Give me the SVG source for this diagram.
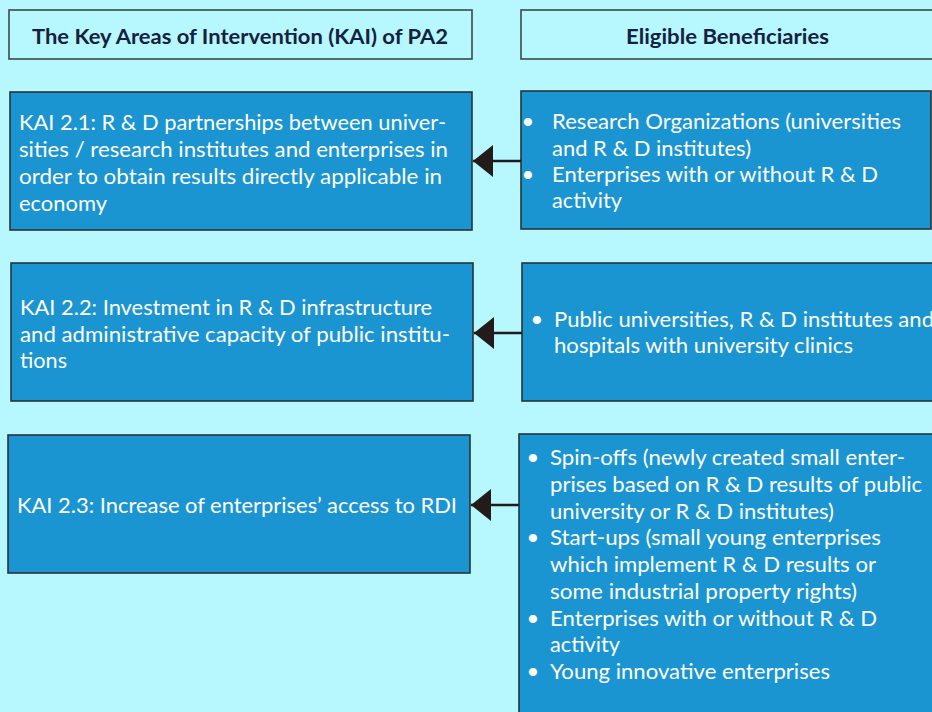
<svg xmlns="http://www.w3.org/2000/svg" width="932" height="712" viewBox="0 0 932 712">
<defs>
<style>
.bg{fill:#b6f8fd}
.hdr{fill:#b6f8fd;stroke:#3a4a4c;stroke-width:1.6}
.box{fill:#1a95d2;stroke:#2a3338;stroke-width:1.6}
.ht{font-family:Lato,"Liberation Sans",sans-serif;font-weight:bold;font-size:21px;fill:#15213f}
.t{font-family:Lato,"Liberation Sans",sans-serif;font-size:22px;fill:#ffffff}
.b{font-family:Lato,"Liberation Sans",sans-serif;font-size:22px;fill:#ffffff;text-anchor:middle}
.con{stroke:#231a1a;stroke-width:2.6;fill:none}
</style>
<marker id="ah" markerUnits="userSpaceOnUse" markerWidth="22" markerHeight="34" refX="20" refY="16" orient="auto" viewBox="0 0 22 34">
<polygon points="20,16 0,0 0,32" fill="#231a1a"/>
</marker>
</defs>
<rect class="bg" x="0" y="0" width="932" height="712"/>

<g id="header-kai">
<rect class="hdr" x="9" y="10" width="463" height="49"/>
<text class="ht" x="32" y="44" textLength="416" lengthAdjust="spacingAndGlyphs">The Key Areas of Intervention (KAI) of PA2</text>
</g>
<g id="header-beneficiaries">
<rect class="hdr" x="521" y="10" width="420" height="49"/>
<text class="ht" x="626" y="44" textLength="203" lengthAdjust="spacingAndGlyphs">Eligible Beneficiaries</text>
</g>

<g id="kai21">
<rect class="box" x="10" y="92" width="462" height="138"/>
<text class="t" x="19" y="130" textLength="427" lengthAdjust="spacingAndGlyphs">KAI 2.1: R &amp; D partnerships between univer-</text>
<text class="t" x="19" y="157" textLength="429" lengthAdjust="spacingAndGlyphs">sities / research institutes and enterprises in</text>
<text class="t" x="19" y="184" textLength="423" lengthAdjust="spacingAndGlyphs">order to obtain results directly applicable in</text>
<text class="t" x="19" y="211" textLength="88" lengthAdjust="spacingAndGlyphs">economy</text>
</g>

<g id="ben21">
<rect class="box" x="521" y="91" width="410" height="138"/>
<text class="b" x="528" y="129">•</text>
<text class="t" x="552" y="129" textLength="349" lengthAdjust="spacingAndGlyphs">Research Organizations (universities</text>
<text class="t" x="552" y="156" textLength="199" lengthAdjust="spacingAndGlyphs">and R &amp; D institutes)</text>
<text class="b" x="528" y="182">•</text>
<text class="t" x="552" y="182" textLength="326" lengthAdjust="spacingAndGlyphs">Enterprises with or without R &amp; D</text>
<text class="t" x="552" y="208" textLength="70" lengthAdjust="spacingAndGlyphs">activity</text>
</g>

<g id="kai22">
<rect class="box" x="11" y="263" width="462" height="138"/>
<text class="t" x="20" y="315" textLength="412" lengthAdjust="spacingAndGlyphs">KAI 2.2: Investment in R &amp; D infrastructure</text>
<text class="t" x="20" y="342" textLength="430" lengthAdjust="spacingAndGlyphs">and administrative capacity of public institu-</text>
<text class="t" x="20" y="368" textLength="47" lengthAdjust="spacingAndGlyphs">tions</text>
</g>

<g id="ben22">
<rect class="box" x="522" y="263" width="420" height="138"/>
<text class="b" x="537" y="327">•</text>
<text class="t" x="554" y="327" textLength="380" lengthAdjust="spacingAndGlyphs">Public universities, R &amp; D institutes and</text>
<text class="t" x="554" y="353" textLength="299" lengthAdjust="spacingAndGlyphs">hospitals with university clinics</text>
</g>

<g id="kai23">
<rect class="box" x="8" y="435" width="462" height="138"/>
<text class="t" x="17" y="513" textLength="440" lengthAdjust="spacingAndGlyphs">KAI 2.3: Increase of enterprises’ access to RDI</text>
</g>

<g id="ben23">
<rect class="box" x="519" y="434" width="425" height="290"/>
<text class="b" x="533" y="465">•</text>
<text class="t" x="550" y="465" textLength="355" lengthAdjust="spacingAndGlyphs">Spin-offs (newly created small enter-</text>
<text class="t" x="550" y="492" textLength="372" lengthAdjust="spacingAndGlyphs">prises based on R &amp; D results of public</text>
<text class="t" x="550" y="519" textLength="284" lengthAdjust="spacingAndGlyphs">university or R &amp; D institutes)</text>
<text class="b" x="533" y="545">•</text>
<text class="t" x="550" y="545" textLength="331" lengthAdjust="spacingAndGlyphs">Start-ups (small young enterprises</text>
<text class="t" x="550" y="572" textLength="326" lengthAdjust="spacingAndGlyphs">which implement R &amp; D results or</text>
<text class="t" x="550" y="599" textLength="307" lengthAdjust="spacingAndGlyphs">some industrial property rights)</text>
<text class="b" x="533" y="626">•</text>
<text class="t" x="550" y="626" textLength="327" lengthAdjust="spacingAndGlyphs">Enterprises with or without R &amp; D</text>
<text class="t" x="550" y="652" textLength="70" lengthAdjust="spacingAndGlyphs">activity</text>
<text class="b" x="533" y="679">•</text>
<text class="t" x="550" y="679" textLength="280" lengthAdjust="spacingAndGlyphs">Young innovative enterprises</text>
</g>

<g id="connectors">
<line class="con" x1="521" y1="161" x2="473" y2="161" marker-end="url(#ah)"/>
<line class="con" x1="522" y1="333" x2="474" y2="333" marker-end="url(#ah)"/>
<line class="con" x1="519" y1="505" x2="471" y2="505" marker-end="url(#ah)"/>
</g>
</svg>
